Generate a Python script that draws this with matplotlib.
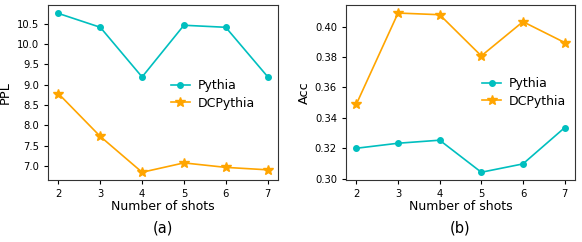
import matplotlib
matplotlib.use("Agg")
import matplotlib.pyplot as plt

shots = [2, 3, 4, 5, 6, 7]
ppl_pythia = [10.75, 10.41, 9.19, 10.46, 10.41, 9.20]
ppl_dcpythia = [8.78, 7.73, 6.85, 7.08, 6.97, 6.91]
acc_pythia = [0.320, 0.3233, 0.3253, 0.3042, 0.3097, 0.3335]
acc_dcpythia = [0.3491, 0.409, 0.4079, 0.3808, 0.4033, 0.3896]

fig = plt.figure(figsize=(5.82, 2.42), dpi=100)
W, H = 582, 242
ax1 = fig.add_axes([48 / W, 1 - 180 / H, (278 - 48) / W, (180 - 5.3) / H])
ax2 = fig.add_axes([346 / W, 1 - 180 / H, (575 - 346) / W, (180 - 5.3) / H])

cyan = "c"
orange = "orange"

for ax, yp, yd, ylabel, tag, lx, ly, ylx in [
    (ax1, ppl_pythia, ppl_dcpythia, "PPL", "(a)", 0.535, 0.489, -0.157),
    (ax2, acc_pythia, acc_dcpythia, "Acc", "(b)", 0.595, 0.50, -0.153),
]:
    ax.plot(shots, yp, color=cyan, marker="o", markersize=4, linewidth=1.2, label="Pythia")
    ax.plot(shots, yd, color=orange, marker="*", markersize=7, linewidth=1.2, label="DCPythia")
    ax.set_xticks(shots)
    ax.tick_params(labelsize=7.2, length=3)
    ax.set_ylabel(ylabel, fontsize=9.3)
    ax.yaxis.set_label_coords(ylx, 0.5)
    ax.set_xlabel("Number of shots", fontsize=9.0, labelpad=1)
    ax.legend(loc="center left", bbox_to_anchor=(lx, ly), frameon=False, fontsize=9,
              borderaxespad=0, borderpad=0, handlelength=1.5, handletextpad=0.6,
              labelspacing=0.35)
    for s in ax.spines.values():
        s.set_color("#333333")
    ax.text(0.5, -0.274, tag, transform=ax.transAxes, ha="center", va="center", fontsize=10.5)

ax1.set_yticks([7.0, 7.5, 8.0, 8.5, 9.0, 9.5, 10.0, 10.5])
ax1.set_ylim(6.66, 10.95)
ax2.set_yticks([0.30, 0.32, 0.34, 0.36, 0.38, 0.40])
ax2.set_ylim(0.2991, 0.4141)

fig.savefig("out.png", dpi=100)
